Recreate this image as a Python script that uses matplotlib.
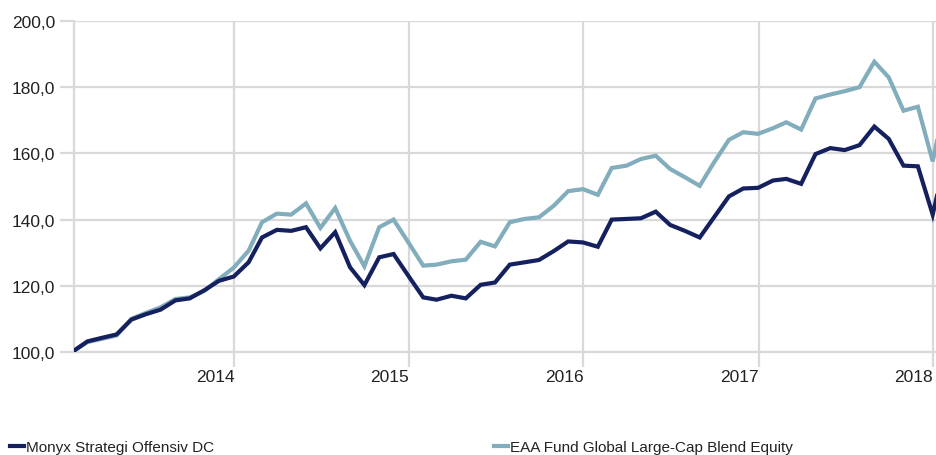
import matplotlib
matplotlib.use('Agg')
import matplotlib.pyplot as plt
import matplotlib.transforms as mtransforms
import pandas as pd

# --- data (monthly, index = 100 at start) ---
months = pd.date_range('2013-01-31', periods=61, freq='ME')

monyx = [100.4, 103.2, 104.3, 105.3, 109.8, 111.4, 112.8, 115.6, 116.2, 118.7,
         121.5, 122.8, 127.1, 134.6, 136.9, 136.6, 137.7, 131.3, 136.2, 125.6,
         120.2, 128.6, 129.6, 123.0, 116.5, 115.8, 117.0, 116.2, 120.3, 121.0,
         126.4, 127.1, 127.8, 130.5, 133.4, 133.1, 131.8, 140.0, 140.2, 140.4,
         142.4, 138.4, 136.6, 134.6, 140.7, 147.0, 149.4, 149.6, 151.8, 152.3,
         150.8, 159.8, 161.6, 161.0, 162.5, 168.1, 164.4, 156.3, 156.1, 141.5,
         161.0]

eaa = [100.4, 103.0, 104.0, 105.0, 110.0, 111.8, 113.5, 116.0, 116.5, 118.5,
       122.0, 125.5, 130.6, 139.2, 141.8, 141.5, 144.9, 137.5, 143.5, 133.6,
       125.9, 137.7, 140.0, 133.1, 126.1, 126.4, 127.4, 127.9, 133.3, 131.9,
       139.2, 140.2, 140.7, 144.2, 148.6, 149.2, 147.5, 155.6, 156.3, 158.3,
       159.3, 155.3, 152.8, 150.2, 157.3, 164.1, 166.4, 165.9, 167.6, 169.4,
       167.2, 176.6, 177.8, 178.8, 180.0, 187.7, 183.0, 172.9, 174.1, 157.6,
       178.8]

series_names = ['Monyx Strategi Offensiv DC', 'EAA Fund Global Large-Cap Blend Equity']
year_ticks = pd.to_datetime(['2014-01-01', '2015-01-01', '2016-01-01', '2017-01-01', '2018-01-01'])
year_labels = ['2014', '2015', '2016', '2017', '2018']
y_ticks = [100, 120, 140, 160, 180, 200]

DARK = '#14215e'
LIGHT = '#82adbd'
GRID = '#d9d9d9'

plt.rcParams['font.family'] = ['Liberation Sans', 'DejaVu Sans']

fig = plt.figure(figsize=(9.37, 4.56), dpi=100)
ax = fig.add_axes([74 / 937, 103 / 456, 1 - 74 / 937, 331 / 456])

ax.plot(months, eaa, color=LIGHT, linewidth=3.0, solid_joinstyle='miter', zorder=3)
ax.plot(months, monyx, color=DARK, linewidth=3.0, solid_joinstyle='miter', zorder=4)

ax.set_ylim(100, 200)
ax.set_xlim(months[0], months[0] + pd.Timedelta(days=1804))

ax.set_yticks(y_ticks)
ax.set_yticklabels([f'{v:.1f}'.replace('.', ',') for v in y_ticks], fontsize=12.5, color='#222222')
ax.set_xticks(year_ticks)
ax.set_xticklabels(year_labels, fontsize=12.5, color='#222222', ha='right')
shift = mtransforms.ScaledTranslation(-4 / 100, 0, fig.dpi_scale_trans)
for lab in ax.get_xticklabels():
    lab.set_transform(lab.get_transform() + shift)

ax.grid(True, color=GRID, linewidth=1.6, zorder=0)
ax.set_axisbelow(True)
ax.tick_params(axis='x', direction='out', length=10.5, width=1.6, color=GRID, pad=2)
ax.tick_params(axis='y', direction='out', length=10, width=1.6, color=GRID, pad=3.5)

for side in ['top', 'right']:
    ax.spines[side].set_visible(False)
for side in ['left', 'bottom']:
    ax.spines[side].set_color(GRID)
    ax.spines[side].set_linewidth(1.6)

# legend drawn by hand along the bottom edge
fig.add_artist(plt.Line2D([10 / 937, 24 / 937], [9 / 456, 9 / 456], color=DARK, linewidth=3.0))
fig.text(26 / 937, 4 / 456, series_names[0], fontsize=11, color='#222222',
         va='baseline', ha='left')
fig.add_artist(plt.Line2D([494 / 937, 508 / 937], [9 / 456, 9 / 456], color=LIGHT, linewidth=3.0))
fig.text(510 / 937, 4 / 456, series_names[1], fontsize=11, color='#222222',
         va='baseline', ha='left')

plt.savefig('out.png', dpi=100)
plt.close()
